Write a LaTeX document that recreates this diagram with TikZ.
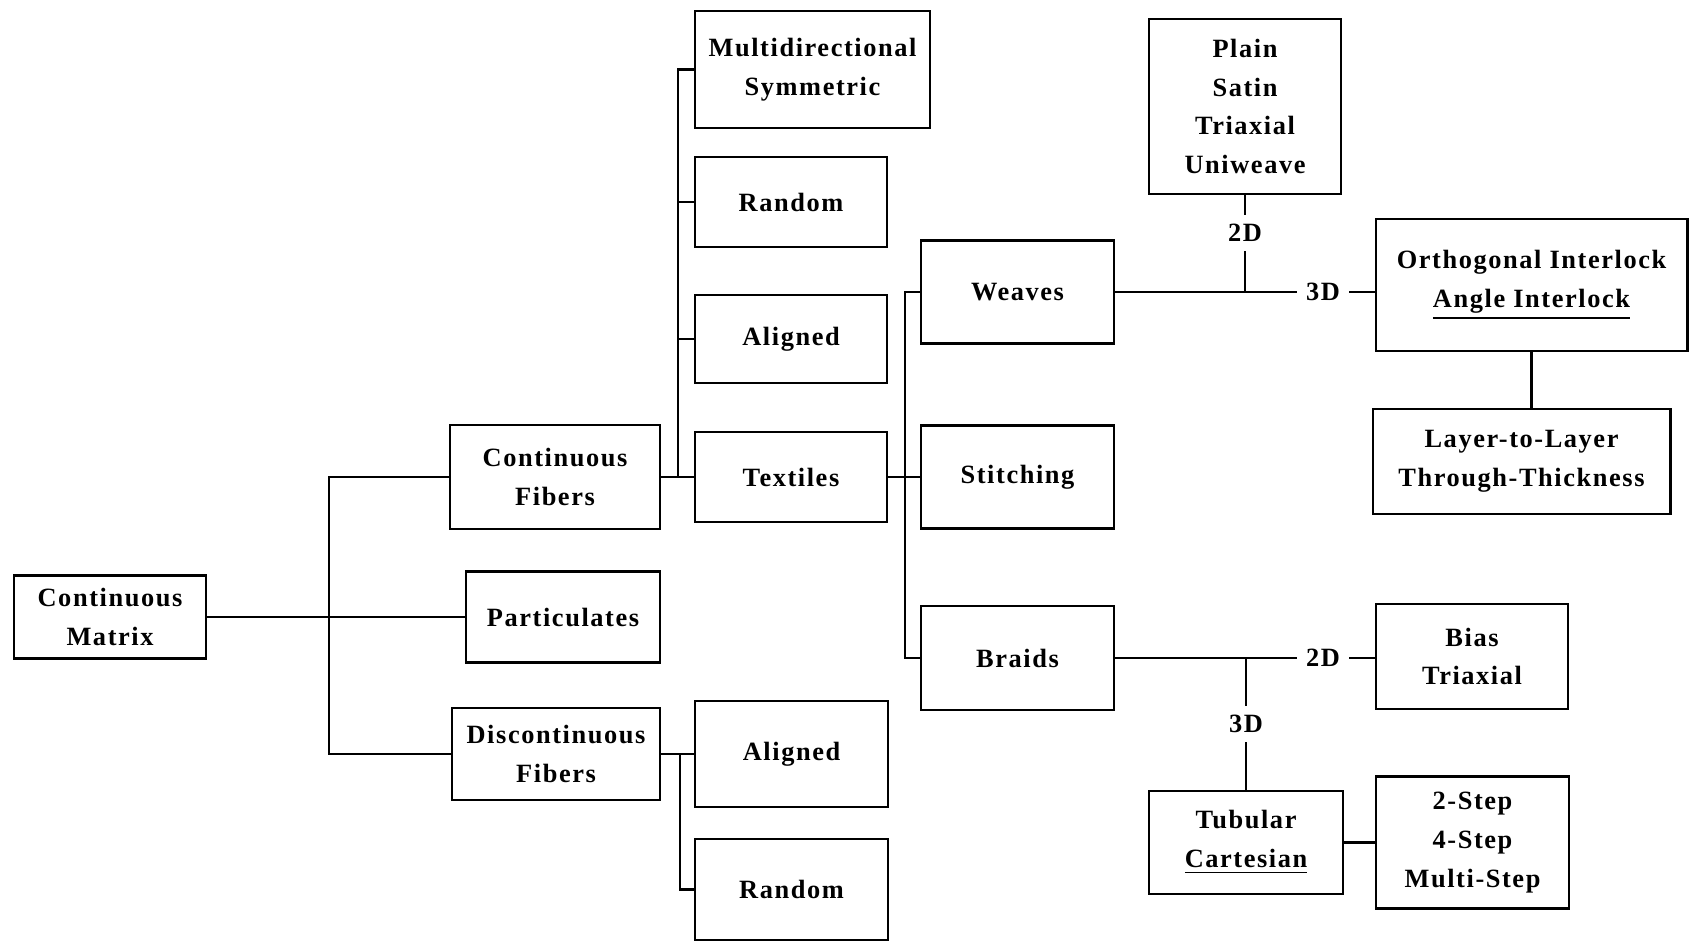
\documentclass[tikz,border=0pt]{standalone}
\usepackage{fontspec}
\setmainfont{Liberation Serif}[LetterSpace=6]
\begin{document}
\begin{tikzpicture}[x=0.01cm,y=-0.01cm,
  box/.style={draw,line width=0.8pt,align=center,inner sep=0pt,
    font=\bfseries\fontsize{7.5}{11}\selectfont},
  lbl/.style={inner sep=2.5pt,font=\bfseries\fontsize{7.5}{11}\selectfont},
  conn/.style={line width=0.8pt}]
\useasboundingbox (0,0) rectangle (1689,942);
% column 1-2
\node[box,minimum width=1.92cm,minimum height=0.83cm] (matrix) at (110,617) {Continuous\\Matrix};
\node[box,minimum width=2.10cm,minimum height=1.04cm] (contf) at (555,477) {Continuous\\Fibers};
\node[box,minimum width=1.94cm,minimum height=0.91cm] (part) at (563,617) {Particulates};
\node[box,minimum width=2.08cm,minimum height=0.92cm] (discf) at (556,754) {Discontinuous\\Fibers};
% column 3
\node[box,minimum width=2.35cm,minimum height=1.17cm] (multi) at (812.5,69.5) {Multidirectional\\Symmetric};
\node[box,minimum width=1.92cm,minimum height=0.90cm] (rand1) at (791,202) {Random};
\node[box,minimum width=1.92cm,minimum height=0.88cm] (alig1) at (791,339) {Aligned};
\node[box,minimum width=1.92cm,minimum height=0.90cm] (text) at (791,477) {Textiles};
\node[box,minimum width=1.93cm,minimum height=1.06cm] (alig2) at (791.5,754) {Aligned};
\node[box,minimum width=1.93cm,minimum height=1.01cm] (rand2) at (791.5,889.5) {Random};
% column 4
\node[box,minimum width=1.93cm,minimum height=1.03cm] (weav) at (1017.5,292) {Weaves};
\node[box,minimum width=1.93cm,minimum height=1.03cm] (stit) at (1017.5,477) {Stitching};
\node[box,minimum width=1.93cm,minimum height=1.04cm] (braid) at (1017.5,658) {Braids};
% column 5-6
\node[box,minimum width=1.92cm,minimum height=1.75cm] (plain) at (1245,106.5) {Plain\\Satin\\Triaxial\\Uniweave};
\node[box,minimum width=3.11cm,minimum height=1.32cm] (ortho) at (1531.5,285) {Orthogonal Interlock\\\underline{Angle Interlock}};
\node[box,minimum width=2.97cm,minimum height=1.05cm] (layer) at (1521.5,461.5) {Layer-to-Layer\\Through-Thickness};
\node[box,minimum width=1.92cm,minimum height=1.05cm] (bias) at (1472,656.5) {Bias\\Triaxial};
\node[box,minimum width=1.94cm,minimum height=1.03cm] (tub) at (1246,842.5) {Tubular\\\underline{Cartesian}};
\node[box,minimum width=1.93cm,minimum height=1.32cm] (steps) at (1472.5,842.5) {2-Step\\4-Step\\Multi-Step};
% labels
\node[lbl] (w3d) at (1323,292) {3D};
\node[lbl] (w2d) at (1245,233) {2D};
\node[lbl] (b2d) at (1323,658) {2D};
\node[lbl] (b3d) at (1246,724) {3D};
% bus coordinates
\coordinate (t1) at (329,617);
\coordinate (b1) at (678,0);
\coordinate (b2) at (905,0);
\coordinate (b3) at (680,0);
% trunk
\draw[conn] (matrix.east) -- (part.west);
\draw[conn] (contf.west) -- (contf.west -| t1) -- (discf.west -| t1) -- (discf.west);
% continuous fibers bus
\draw[conn] (contf.east) -- (text.west);
\draw[conn] (multi.west) -- (multi.west -| b1) -- (text.west -| b1);
\draw[conn] (rand1.west) -- (rand1.west -| b1);
\draw[conn] (alig1.west) -- (alig1.west -| b1);
% discontinuous bus
\draw[conn] (discf.east) -- (alig2.west);
\draw[conn] (discf.east -| b3) -- (rand2.west -| b3) -- (rand2.west);
% textiles bus
\draw[conn] (text.east) -- (stit.west);
\draw[conn] (weav.west) -- (weav.west -| b2) -- (braid.west -| b2) -- (braid.west);
% weaves
\draw[conn] (weav.east) -- (w3d.west |- weav.east);
\draw[conn] (w3d.east) -- (w3d.east -| ortho.west);
\draw[conn] (plain.south) -- (w2d.north);
\draw[conn] (w2d.south) -- (w2d.south |- weav.east);
\draw[conn] (ortho.south) -- (ortho.south |- layer.north);
% braids
\draw[conn] (braid.east) -- (b2d.west |- braid.east);
\draw[conn] (b2d.east) -- (b2d.east -| bias.west);
\draw[conn] (tub.north |- braid.east) -- (b3d.north);
\draw[conn] (b3d.south) -- (tub.north);
\draw[conn] (tub.east) -- (steps.west);
\end{tikzpicture}
\end{document}
